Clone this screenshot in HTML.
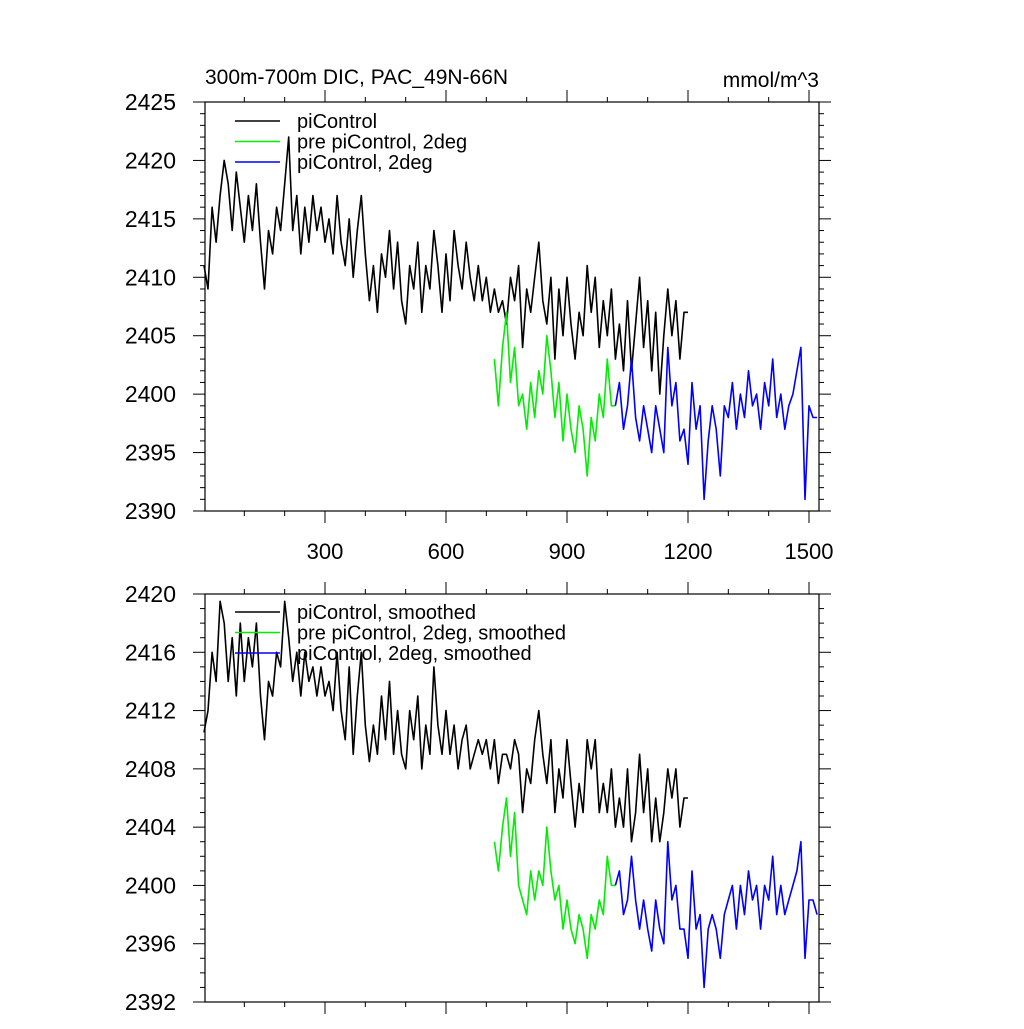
<!DOCTYPE html>
<html><head><meta charset="utf-8"><style>
body{margin:0;background:#fff;width:1024px;height:1024px;overflow:hidden}
svg text{font-family:"Liberation Sans",Arial,sans-serif;fill:#000}
</style></head><body>
<svg id="chart" width="1024" height="1024" viewBox="0 0 1024 1024" xmlns="http://www.w3.org/2000/svg">
<text x="205" y="84" font-size="21">300m-700m DIC, PAC_49N-66N</text>
<text x="819" y="87" font-size="21" text-anchor="end">mmol/m^3</text>
</svg>
<script>
const xStart = 0, xStep = 10;
const topBlack = [2411,2409,2416,2413,2417,2420,2418,2414,2419,2416,2413,2417,2414,2418,2413,2409,2414,2412,2416,2414,2418,2422,2414,2417,2412,2416,2413,2417,2414,2416,2413,2415,2412,2417,2413,2411,2415,2410,2414,2417,2412,2408,2411,2407,2412,2410,2414,2409,2413,2408,2406,2411,2409,2413,2407,2411,2409,2414,2411,2407,2412,2408,2414,2411,2409,2413,2410,2408,2411,2408,2410,2407,2409,2407,2408,2406,2410,2408,2411,2404,2409,2407,2410,2413,2408,2406,2410,2403,2409,2405,2410,2406,2403,2407,2405,2411,2407,2410,2404,2408,2405,2409,2403,2406,2402,2408,2402,2406,2410,2404,2408,2402,2407,2400,2405,2409,2405,2408,2403,2407,2407];
const greenStart = 720;
const topGreen = [2403,2399,2404,2407,2401,2404,2399,2400,2397,2401,2398,2402,2400,2405,2402,2398,2401,2396,2400,2397,2395,2399,2397,2393,2398,2396,2400,2398,2403,2399,2399];
const blueStart = 1020;
const topBlue = [2399,2401,2397,2399,2403,2398,2396,2399,2397,2395,2399,2397,2395,2404,2399,2401,2396,2397,2394,2401,2397,2399,2391,2396,2399,2397,2393,2399,2398,2401,2397,2400,2398,2402,2399,2400,2397,2401,2399,2403,2398,2400,2397,2399,2400,2402,2404,2391,2399,2398,2398];
const botBlack = [2410.5,2412,2416,2414,2419.5,2418,2414,2417,2413,2418,2414,2417,2415,2418,2413,2410,2414,2413,2416,2415,2419.5,2417,2414,2416,2413,2416,2414,2415,2413,2415,2413,2414,2412,2416,2412,2410,2415,2409,2413,2416,2411,2408.5,2411,2409,2413,2410,2414,2409,2412,2409,2408,2412,2410,2413,2408,2411,2409,2415,2411,2409,2412,2409,2411,2408,2410,2411,2408,2409,2410,2409,2410,2408,2410,2407,2409,2409,2408,2410,2409,2405,2408,2407,2410,2412,2409,2407,2410,2405,2408,2406,2410,2407,2404,2407,2405,2410,2408,2410,2405,2407,2405,2408,2404,2406,2404,2408,2403,2405,2409,2405,2408,2403,2406,2403,2405,2408,2406,2408,2404,2406,2406];
const botGreen = [2403,2401,2404,2406,2402,2405,2400,2399,2398,2401,2399,2401,2400,2404,2401,2399,2400,2397,2399,2397,2396,2398,2397,2395,2398,2397,2399,2398,2402,2400,2400];
const botBlue = [2400,2401,2398,2399,2402,2399,2397,2399,2397,2395.5,2399,2397,2396,2403,2399,2400,2397,2397,2395,2401,2397,2398,2393,2397,2398,2397,2395,2398,2399,2400,2397,2400,2398,2401,2399,2400,2397,2400,2399,2402,2398,2400,2398,2399,2400,2401,2403,2395,2399,2399,2398];
const xTicks = [300,600,900,1200,1500];
const topYTicks = [2390,2395,2400,2405,2410,2415,2420,2425];
const botYTicks = [2392,2396,2400,2404,2408,2412,2416,2420];
const topLegend = ["piControl","pre piControl, 2deg","piControl, 2deg"];
const botLegend = ["piControl, smoothed","pre piControl, 2deg, smoothed","piControl, 2deg, smoothed"];
const colors = ["#000","#00ee00","#0000ff"];

const svg = document.getElementById('chart');
const NS = "http://www.w3.org/2000/svg";
const X0 = 205, X1 = 819;
function xs(v){ return 204 + v * 121/300; }
function mk(tag, attrs){ const e=document.createElementNS(NS,tag); for(const k in attrs) e.setAttribute(k,attrs[k]); svg.appendChild(e); return e; }

function panel(prefix, top, bottom, ymin, ymax, yTicks, minorStep, series, legend, legendY, showX){
  const ys = v => bottom - (v - ymin) * (bottom - top) / (ymax - ymin);
  const frame = mk('rect',{x:X0,y:top,width:X1-X0,height:bottom-top,fill:'none',stroke:'#000','stroke-width':1.2});
  
  
  for(let v=ymin; v<=ymax+1e-6; v+=minorStep){
    const major = yTicks.includes(Math.round(v*1000)/1000);
    const len = major?12:5;
    [[X0,X0-len],[X1,X1+len]].forEach(p=>{
      const t = mk('line',{x1:p[0],x2:p[1],y1:ys(v),y2:ys(v),stroke:'#000','stroke-width':1});
      
      
    });
  }
  yTicks.forEach(v=>{
    const t = mk('text',{x:176,y:ys(v)+8,'font-size':23,'text-anchor':'end'});
    t.textContent = v;
    
    
  });
  for(let v=100; v<=1500; v+=100){
    const major = xTicks.includes(v);
    const len = major?12:5;
    [[top,top-len],[bottom,bottom+len]].forEach(p=>{
      const t = mk('line',{x1:xs(v),x2:xs(v),y1:p[0],y2:p[1],stroke:'#000','stroke-width':1});
      
      
    });
  }
  if(showX){
    xTicks.forEach(v=>{
      const t = mk('text',{x:xs(v),y:bottom+48,'font-size':22,'text-anchor':'middle'});
      t.textContent = v;
      
      
    });
  }
  series.forEach((s,i)=>{
    const pts = s.vals.map((v,j)=>xs(s.start + j*xStep).toFixed(1)+','+ys(v).toFixed(1)).join(' ');
    const pl = mk('polyline',{points:pts,fill:'none',stroke:colors[i],'stroke-width':1.6,'stroke-linejoin':'round'});
    
    
  });
  legend.forEach((lab,i)=>{
    const y = legendY + i*20.5;
    const l = mk('line',{x1:235,x2:280,y1:y,y2:y,stroke:colors[i],'stroke-width':1.5});
    
    
    const t = mk('text',{x:297,y:y+7,'font-size':20});
    t.textContent = lab;
    
    
  });
}
panel('top',102,511,2390,2425,topYTicks,1,
  [{start:xStart,vals:topBlack},{start:greenStart,vals:topGreen},{start:blueStart,vals:topBlue}],
  topLegend,121,true);
panel('bottom',594,1002,2392,2420,botYTicks,1,
  [{start:xStart,vals:botBlack},{start:greenStart,vals:botGreen},{start:blueStart,vals:botBlue}],
  botLegend,612,false);
</script>
</body></html>
